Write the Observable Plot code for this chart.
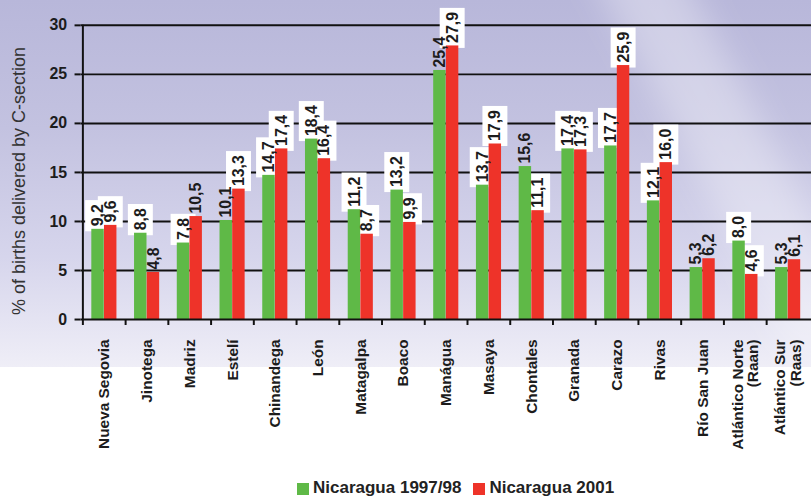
<!DOCTYPE html>
<html>
<head>
<meta charset="utf-8">
<script src="https://cdn.jsdelivr.net/npm/d3@7"></script>
<script src="https://cdn.jsdelivr.net/npm/@observablehq/plot@0.6"></script>
<style>
  html, body { margin: 0; padding: 0; background: #fff; }
  #page {
    position: relative; width: 811px; height: 497px; overflow: hidden;
    font-family: "Liberation Sans", Arial, Helvetica, sans-serif; background: #fff;
  }
  #panel {
    position: absolute; left: 0; top: 0; width: 811px; height: 367px; overflow: hidden;
    background: linear-gradient(to bottom, #b8b7da 0%, #c3c2e0 35%, #d6d5ec 70%, #efeef7 100%);
  }
  #sheen {
    position: absolute; left: 680px; top: -110px; width: 80px; height: 480px;
    background: rgba(255, 255, 255, 0.32); filter: blur(16px); transform: rotate(-28deg);
  }
  #chart { position: absolute; left: 0; top: 0; }
  #ylabel {
    position: absolute; left: 19px; top: 181px; width: 320px;
    transform: translate(-50%, -50%) rotate(-90deg);
    text-align: center; font-size: 18px; line-height: 18px; color: #333; white-space: nowrap;
  }
  #legend {
    position: absolute; left: 297px; top: 479px; font-size: 17px; line-height: 17px;
    font-weight: bold; color: #222; white-space: nowrap;
  }
  #legend .sw { display: inline-block; width: 12px; height: 12px; vertical-align: -2px; margin-right: 4px; }
  #legend .item + .item { margin-left: 12px; }
</style>
</head>
<body>
<div id="page">
  <div id="panel"><div id="sheen"></div></div>
  <div id="chart"></div>
  <div id="ylabel">% of births delivered by C-section</div>
  <div id="legend"></div>
</div>
<script>
// Departments of Nicaragua
const regions = [
  "Nueva Segovia", "Jinotega", "Madriz", "Estelí", "Chinandega", "León",
  "Matagalpa", "Boaco", "Manágua", "Masaya", "Chontales", "Granada",
  "Carazo", "Rivas", "Río San Juan", "Atlántico Norte\n(Raan)", "Atlántico Sur\n(Raas)"
];
// % of births delivered by C-section
const pct1997 = [9.2, 8.8, 7.8, 10.1, 14.7, 18.4, 11.2, 13.2, 25.4, 13.7, 15.6, 17.4, 17.7, 12.1, 5.3, 8.0, 5.3];
const pct2001 = [9.6, 4.8, 10.5, 13.3, 17.4, 16.4, 8.7, 9.9, 27.9, 17.9, 11.1, 17.3, 25.9, 16.0, 6.2, 4.6, 6.1];
const seriesNames = ["Nicaragua 1997/98", "Nicaragua 2001"];
const yTicks = [0, 5, 10, 15, 20, 25, 30];

// value labels drawn without a white backing box
const unboxed = new Set([
  "Jinotega|1", "Madriz|1", "Estelí|0", "Manágua|0", "Chontales|0",
  "Río San Juan|0", "Río San Juan|1", "Atlántico Sur\n(Raas)|0", "Atlántico Sur\n(Raas)|1"
]);

const colors = ["#5fb947", "#ee3329"];
const ink = "#1c1c1c";

const width = 816, height = 470;
const marginLeft = 81, marginRight = 0, marginTop = 25, marginBottom = 149;
const step = (width - marginLeft - marginRight) / regions.length;
const barW = step * 0.295;
const outer = step / 2 - barW;

const seriesRows = [pct1997, pct2001].map((vals, s) =>
  regions.map((region, i) => ({ region, value: vals[i], series: s }))
);
const fmt = v => v.toFixed(1).replace(".", ",");

const chart = Plot.plot({
  width, height, marginLeft, marginRight, marginTop, marginBottom,
  style: { background: "transparent", fontFamily: "'Liberation Sans', Arial, sans-serif", color: ink, overflow: "visible" },
  x: { domain: regions, padding: 0, label: null },
  y: { domain: [0, 30], label: null },
  marks: [
    Plot.ruleY(yTicks.filter(t => t > 0), { stroke: "#111", strokeWidth: 2 }),
    Plot.barY(seriesRows[0], { x: "region", y: "value", fill: colors[0], insetLeft: outer, insetRight: step / 2,
                               ariaDescription: "bars 0" }),
    Plot.barY(seriesRows[1], { x: "region", y: "value", fill: colors[1], insetLeft: step / 2, insetRight: outer,
                               ariaDescription: "bars 1" }),
    Plot.ruleY([0], { stroke: "#111", strokeWidth: 2 }),
    // vertical axis line along the first band's left edge
    Plot.ruleX([regions[0]], { x: d => d, dx: -step / 2, y1: 0, y2: 30, stroke: "#111", strokeWidth: 2 }),
    Plot.axisY({ ticks: yTicks, tickFormat: d => d, tickSize: 6, tickPadding: 8, strokeWidth: 2, stroke: "#111",
                 fontSize: 16, fontWeight: "bold", fill: ink, label: null }),
    // category separators below the baseline
    Plot.axisX({ tickSize: 6, tickFormat: () => "", dx: -step / 2, strokeWidth: 2, stroke: "#111", label: null }),
    Plot.axisX({ tickSize: 0, tickPadding: 20, tickRotate: -90, fontSize: 15.5, fontWeight: "bold", fill: ink, label: null }),
    ...seriesRows.map((rows, s) =>
      Plot.text(rows, {
        x: "region", y: "value", text: d => fmt(d.value), rotate: -90, textAnchor: "start",
        dx: (s === 0 ? -1 : 1) * (barW / 2), dy: -3,
        fontSize: 16, fontWeight: "bold", fill: ink, ariaDescription: "value label " + s
      })
    )
  ]
});

document.getElementById("chart").append(chart);

// white backing boxes behind the value labels, laid over the grid but under the bars
const ns = "http://www.w3.org/2000/svg";
const labelGroups = [0, 1].map(s => chart.querySelector(`g[aria-description="value label ${s}"]`));
const anchor = chart.querySelector('g[aria-description="bars 0"]');
labelGroups.forEach((g, s) => {
  if (!g || !anchor) return;
  const back = document.createElementNS(ns, "g");
  if (g.getAttribute("transform")) back.setAttribute("transform", g.getAttribute("transform"));
  g.querySelectorAll("text").forEach((t, i) => {
    if (unboxed.has(regions[i] + "|" + s)) return;
    const b = t.getBBox();
    const r = document.createElementNS(ns, "rect");
    r.setAttribute("x", b.x - 5);
    r.setAttribute("y", b.y - 4);
    r.setAttribute("width", b.width + 9);
    r.setAttribute("height", b.height + 8);
    r.setAttribute("fill", "#fff");
    if (t.getAttribute("transform")) r.setAttribute("transform", t.getAttribute("transform"));
    back.append(r);
  });
  anchor.parentNode.insertBefore(back, anchor);
});

// legend
const legend = document.getElementById("legend");
seriesNames.forEach((name, s) => {
  const item = document.createElement("span");
  item.className = "item";
  const sw = document.createElement("span");
  sw.className = "sw";
  sw.style.background = colors[s];
  item.append(sw, document.createTextNode(name));
  legend.append(item);
});
</script>
</body>
</html>
